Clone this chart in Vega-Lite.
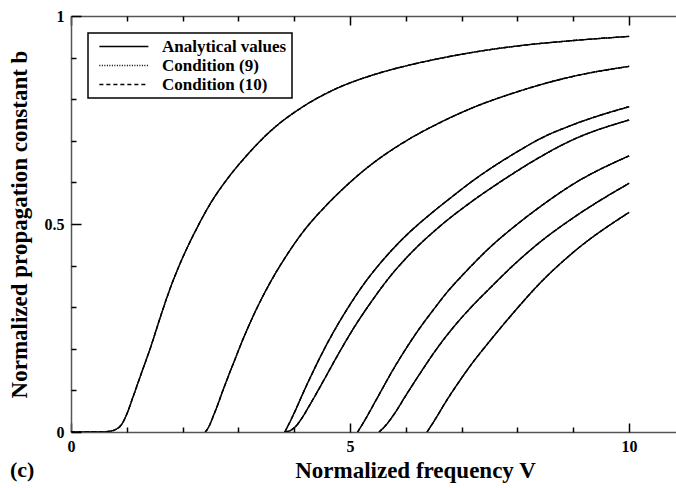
{
"$schema": "https://vega.github.io/schema/vega-lite/v6.json",
"width": 605,
"height": 416,
"autosize": {"type": "none"},
"padding": {"left": 71, "top": 16, "right": 0, "bottom": 56},
"background": "white",
"data": {"values": [
{"mode":"LP01","V":0,"Analytical values":0,"Condition (9)":0,"Condition (10)":0},
{"mode":"LP01","V":0.3,"Analytical values":0,"Condition (9)":0,"Condition (10)":0},
{"mode":"LP01","V":0.55,"Analytical values":0,"Condition (9)":0,"Condition (10)":0},
{"mode":"LP01","V":0.7,"Analytical values":0.002,"Condition (9)":0.002,"Condition (10)":0.002},
{"mode":"LP01","V":0.8,"Analytical values":0.006,"Condition (9)":0.006,"Condition (10)":0.006},
{"mode":"LP01","V":0.9,"Analytical values":0.017,"Condition (9)":0.017,"Condition (10)":0.017},
{"mode":"LP01","V":1.0,"Analytical values":0.043,"Condition (9)":0.043,"Condition (10)":0.043},
{"mode":"LP01","V":1.1,"Analytical values":0.08,"Condition (9)":0.08,"Condition (10)":0.08},
{"mode":"LP01","V":1.25,"Analytical values":0.137,"Condition (9)":0.137,"Condition (10)":0.137},
{"mode":"LP01","V":1.43,"Analytical values":0.205,"Condition (9)":0.205,"Condition (10)":0.205},
{"mode":"LP01","V":1.61,"Analytical values":0.28,"Condition (9)":0.28,"Condition (10)":0.28},
{"mode":"LP01","V":1.79,"Analytical values":0.35,"Condition (9)":0.35,"Condition (10)":0.35},
{"mode":"LP01","V":1.97,"Analytical values":0.41,"Condition (9)":0.41,"Condition (10)":0.41},
{"mode":"LP01","V":2.21,"Analytical values":0.478,"Condition (9)":0.478,"Condition (10)":0.478},
{"mode":"LP01","V":2.51,"Analytical values":0.552,"Condition (9)":0.552,"Condition (10)":0.552},
{"mode":"LP01","V":2.81,"Analytical values":0.61,"Condition (9)":0.61,"Condition (10)":0.61},
{"mode":"LP01","V":3.17,"Analytical values":0.668,"Condition (9)":0.668,"Condition (10)":0.668},
{"mode":"LP01","V":3.58,"Analytical values":0.724,"Condition (9)":0.724,"Condition (10)":0.724},
{"mode":"LP01","V":4.18,"Analytical values":0.784,"Condition (9)":0.784,"Condition (10)":0.784},
{"mode":"LP01","V":4.78,"Analytical values":0.827,"Condition (9)":0.827,"Condition (10)":0.827},
{"mode":"LP01","V":5.38,"Analytical values":0.857,"Condition (9)":0.857,"Condition (10)":0.857},
{"mode":"LP01","V":5.97,"Analytical values":0.879,"Condition (9)":0.879,"Condition (10)":0.879},
{"mode":"LP01","V":6.57,"Analytical values":0.897,"Condition (9)":0.897,"Condition (10)":0.897},
{"mode":"LP01","V":7.17,"Analytical values":0.912,"Condition (9)":0.912,"Condition (10)":0.912},
{"mode":"LP01","V":8,"Analytical values":0.928,"Condition (9)":0.928,"Condition (10)":0.928},
{"mode":"LP01","V":9,"Analytical values":0.941,"Condition (9)":0.941,"Condition (10)":0.941},
{"mode":"LP01","V":10,"Analytical values":0.951,"Condition (9)":0.951,"Condition (10)":0.951},
{"mode":"LP11","V":2.405,"Analytical values":0,"Condition (9)":0,"Condition (10)":0},
{"mode":"LP11","V":2.45,"Analytical values":0.008,"Condition (9)":0.008,"Condition (10)":0.008},
{"mode":"LP11","V":2.57,"Analytical values":0.045,"Condition (9)":0.045,"Condition (10)":0.045},
{"mode":"LP11","V":2.75,"Analytical values":0.11,"Condition (9)":0.11,"Condition (10)":0.11},
{"mode":"LP11","V":2.93,"Analytical values":0.172,"Condition (9)":0.172,"Condition (10)":0.172},
{"mode":"LP11","V":3.11,"Analytical values":0.232,"Condition (9)":0.232,"Condition (10)":0.232},
{"mode":"LP11","V":3.35,"Analytical values":0.303,"Condition (9)":0.303,"Condition (10)":0.303},
{"mode":"LP11","V":3.58,"Analytical values":0.362,"Condition (9)":0.362,"Condition (10)":0.362},
{"mode":"LP11","V":3.88,"Analytical values":0.428,"Condition (9)":0.428,"Condition (10)":0.428},
{"mode":"LP11","V":4.18,"Analytical values":0.485,"Condition (9)":0.485,"Condition (10)":0.485},
{"mode":"LP11","V":4.54,"Analytical values":0.54,"Condition (9)":0.54,"Condition (10)":0.54},
{"mode":"LP11","V":4.9,"Analytical values":0.588,"Condition (9)":0.588,"Condition (10)":0.588},
{"mode":"LP11","V":5.38,"Analytical values":0.643,"Condition (9)":0.643,"Condition (10)":0.643},
{"mode":"LP11","V":5.97,"Analytical values":0.697,"Condition (9)":0.697,"Condition (10)":0.697},
{"mode":"LP11","V":6.57,"Analytical values":0.741,"Condition (9)":0.741,"Condition (10)":0.741},
{"mode":"LP11","V":7.17,"Analytical values":0.778,"Condition (9)":0.778,"Condition (10)":0.778},
{"mode":"LP11","V":8,"Analytical values":0.818,"Condition (9)":0.818,"Condition (10)":0.818},
{"mode":"LP11","V":8.39,"Analytical values":0.834,"Condition (9)":0.834,"Condition (10)":0.834},
{"mode":"LP11","V":9,"Analytical values":0.855,"Condition (9)":0.855,"Condition (10)":0.855},
{"mode":"LP11","V":10,"Analytical values":0.879,"Condition (9)":0.879,"Condition (10)":0.879},
{"mode":"LP21","V":3.832,"Analytical values":0,"Condition (9)":0,"Condition (10)":0},
{"mode":"LP21","V":3.9,"Analytical values":0.018,"Condition (9)":0.018,"Condition (10)":0.018},
{"mode":"LP21","V":4.0,"Analytical values":0.046,"Condition (9)":0.046,"Condition (10)":0.046},
{"mode":"LP21","V":4.18,"Analytical values":0.1,"Condition (9)":0.1,"Condition (10)":0.1},
{"mode":"LP21","V":4.42,"Analytical values":0.168,"Condition (9)":0.168,"Condition (10)":0.168},
{"mode":"LP21","V":4.66,"Analytical values":0.23,"Condition (9)":0.23,"Condition (10)":0.23},
{"mode":"LP21","V":4.96,"Analytical values":0.298,"Condition (9)":0.298,"Condition (10)":0.298},
{"mode":"LP21","V":5.26,"Analytical values":0.358,"Condition (9)":0.358,"Condition (10)":0.358},
{"mode":"LP21","V":5.62,"Analytical values":0.418,"Condition (9)":0.418,"Condition (10)":0.418},
{"mode":"LP21","V":5.97,"Analytical values":0.468,"Condition (9)":0.468,"Condition (10)":0.468},
{"mode":"LP21","V":6.45,"Analytical values":0.525,"Condition (9)":0.525,"Condition (10)":0.525},
{"mode":"LP21","V":6.87,"Analytical values":0.57,"Condition (9)":0.57,"Condition (10)":0.57},
{"mode":"LP21","V":7.17,"Analytical values":0.601,"Condition (9)":0.601,"Condition (10)":0.601},
{"mode":"LP21","V":7.5,"Analytical values":0.632,"Condition (9)":0.632,"Condition (10)":0.632},
{"mode":"LP21","V":8,"Analytical values":0.674,"Condition (9)":0.674,"Condition (10)":0.674},
{"mode":"LP21","V":8.39,"Analytical values":0.704,"Condition (9)":0.704,"Condition (10)":0.704},
{"mode":"LP21","V":9,"Analytical values":0.739,"Condition (9)":0.739,"Condition (10)":0.739},
{"mode":"LP21","V":10,"Analytical values":0.782,"Condition (9)":0.782,"Condition (10)":0.782},
{"mode":"LP02","V":3.832,"Analytical values":0,"Condition (9)":0,"Condition (10)":0},
{"mode":"LP02","V":3.9,"Analytical values":0.002,"Condition (9)":0.002,"Condition (10)":0.002},
{"mode":"LP02","V":3.95,"Analytical values":0.005,"Condition (9)":0.005,"Condition (10)":0.005},
{"mode":"LP02","V":4.0,"Analytical values":0.01,"Condition (9)":0.01,"Condition (10)":0.01},
{"mode":"LP02","V":4.05,"Analytical values":0.017,"Condition (9)":0.017,"Condition (10)":0.017},
{"mode":"LP02","V":4.12,"Analytical values":0.03,"Condition (9)":0.03,"Condition (10)":0.03},
{"mode":"LP02","V":4.3,"Analytical values":0.07,"Condition (9)":0.07,"Condition (10)":0.07},
{"mode":"LP02","V":4.54,"Analytical values":0.127,"Condition (9)":0.127,"Condition (10)":0.127},
{"mode":"LP02","V":4.78,"Analytical values":0.185,"Condition (9)":0.185,"Condition (10)":0.185},
{"mode":"LP02","V":5.08,"Analytical values":0.253,"Condition (9)":0.253,"Condition (10)":0.253},
{"mode":"LP02","V":5.38,"Analytical values":0.313,"Condition (9)":0.313,"Condition (10)":0.313},
{"mode":"LP02","V":5.73,"Analytical values":0.376,"Condition (9)":0.376,"Condition (10)":0.376},
{"mode":"LP02","V":6.09,"Analytical values":0.43,"Condition (9)":0.43,"Condition (10)":0.43},
{"mode":"LP02","V":6.57,"Analytical values":0.49,"Condition (9)":0.49,"Condition (10)":0.49},
{"mode":"LP02","V":7.17,"Analytical values":0.553,"Condition (9)":0.553,"Condition (10)":0.553},
{"mode":"LP02","V":7.5,"Analytical values":0.584,"Condition (9)":0.584,"Condition (10)":0.584},
{"mode":"LP02","V":8,"Analytical values":0.628,"Condition (9)":0.628,"Condition (10)":0.628},
{"mode":"LP02","V":8.39,"Analytical values":0.66,"Condition (9)":0.66,"Condition (10)":0.66},
{"mode":"LP02","V":9,"Analytical values":0.703,"Condition (9)":0.703,"Condition (10)":0.703},
{"mode":"LP02","V":10,"Analytical values":0.75,"Condition (9)":0.75,"Condition (10)":0.75},
{"mode":"LP31","V":5.136,"Analytical values":0,"Condition (9)":0,"Condition (10)":0},
{"mode":"LP31","V":5.25,"Analytical values":0.025,"Condition (9)":0.025,"Condition (10)":0.025},
{"mode":"LP31","V":5.5,"Analytical values":0.085,"Condition (9)":0.085,"Condition (10)":0.085},
{"mode":"LP31","V":5.75,"Analytical values":0.145,"Condition (9)":0.145,"Condition (10)":0.145},
{"mode":"LP31","V":6,"Analytical values":0.2,"Condition (9)":0.2,"Condition (10)":0.2},
{"mode":"LP31","V":6.25,"Analytical values":0.25,"Condition (9)":0.25,"Condition (10)":0.25},
{"mode":"LP31","V":6.5,"Analytical values":0.295,"Condition (9)":0.295,"Condition (10)":0.295},
{"mode":"LP31","V":6.75,"Analytical values":0.338,"Condition (9)":0.338,"Condition (10)":0.338},
{"mode":"LP31","V":7,"Analytical values":0.375,"Condition (9)":0.375,"Condition (10)":0.375},
{"mode":"LP31","V":7.17,"Analytical values":0.399,"Condition (9)":0.399,"Condition (10)":0.399},
{"mode":"LP31","V":7.5,"Analytical values":0.443,"Condition (9)":0.443,"Condition (10)":0.443},
{"mode":"LP31","V":8,"Analytical values":0.5,"Condition (9)":0.5,"Condition (10)":0.5},
{"mode":"LP31","V":8.39,"Analytical values":0.54,"Condition (9)":0.54,"Condition (10)":0.54},
{"mode":"LP31","V":9,"Analytical values":0.596,"Condition (9)":0.596,"Condition (10)":0.596},
{"mode":"LP31","V":10,"Analytical values":0.664,"Condition (9)":0.664,"Condition (10)":0.664},
{"mode":"LP12","V":5.52,"Analytical values":0,"Condition (9)":0,"Condition (10)":0},
{"mode":"LP12","V":5.6,"Analytical values":0.01,"Condition (9)":0.01,"Condition (10)":0.01},
{"mode":"LP12","V":5.8,"Analytical values":0.045,"Condition (9)":0.045,"Condition (10)":0.045},
{"mode":"LP12","V":6,"Analytical values":0.088,"Condition (9)":0.088,"Condition (10)":0.088},
{"mode":"LP12","V":6.25,"Analytical values":0.14,"Condition (9)":0.14,"Condition (10)":0.14},
{"mode":"LP12","V":6.5,"Analytical values":0.19,"Condition (9)":0.19,"Condition (10)":0.19},
{"mode":"LP12","V":6.75,"Analytical values":0.235,"Condition (9)":0.235,"Condition (10)":0.235},
{"mode":"LP12","V":7,"Analytical values":0.275,"Condition (9)":0.275,"Condition (10)":0.275},
{"mode":"LP12","V":7.17,"Analytical values":0.3,"Condition (9)":0.3,"Condition (10)":0.3},
{"mode":"LP12","V":7.5,"Analytical values":0.345,"Condition (9)":0.345,"Condition (10)":0.345},
{"mode":"LP12","V":8,"Analytical values":0.41,"Condition (9)":0.41,"Condition (10)":0.41},
{"mode":"LP12","V":8.39,"Analytical values":0.455,"Condition (9)":0.455,"Condition (10)":0.455},
{"mode":"LP12","V":9,"Analytical values":0.515,"Condition (9)":0.515,"Condition (10)":0.515},
{"mode":"LP12","V":10,"Analytical values":0.598,"Condition (9)":0.598,"Condition (10)":0.598},
{"mode":"LP41","V":6.38,"Analytical values":0,"Condition (9)":0,"Condition (10)":0},
{"mode":"LP41","V":6.5,"Analytical values":0.025,"Condition (9)":0.025,"Condition (10)":0.025},
{"mode":"LP41","V":6.75,"Analytical values":0.08,"Condition (9)":0.08,"Condition (10)":0.08},
{"mode":"LP41","V":7,"Analytical values":0.13,"Condition (9)":0.13,"Condition (10)":0.13},
{"mode":"LP41","V":7.17,"Analytical values":0.162,"Condition (9)":0.162,"Condition (10)":0.162},
{"mode":"LP41","V":7.5,"Analytical values":0.218,"Condition (9)":0.218,"Condition (10)":0.218},
{"mode":"LP41","V":8,"Analytical values":0.298,"Condition (9)":0.298,"Condition (10)":0.298},
{"mode":"LP41","V":8.39,"Analytical values":0.356,"Condition (9)":0.356,"Condition (10)":0.356},
{"mode":"LP41","V":9,"Analytical values":0.432,"Condition (9)":0.432,"Condition (10)":0.432},
{"mode":"LP41","V":10,"Analytical values":0.528,"Condition (9)":0.528,"Condition (10)":0.528}
]},
"transform": [{"fold": ["Analytical values", "Condition (9)", "Condition (10)"], "as": ["series", "b"]}],
"title": {"text": "(c)", "orient": "bottom", "anchor": "start", "frame": "bounds", "offset": -22, "dx": 2, "font": "Liberation Serif", "fontWeight": "bold", "fontSize": 22, "color": "black"},
"resolve": {"scale": {"x": "shared", "y": "shared"}, "axis": {"x": "independent", "y": "independent"}},
"layer": [
{"mark": {"type": "line", "color": "black", "strokeWidth": 1.4, "interpolate": "monotone", "clip": true},
 "encoding": {
  "x": {"field": "V", "type": "quantitative", "scale": {"domain": [0, 10.84], "nice": false, "zero": false},
        "axis": {"orient": "bottom", "values": [0, 5, 10], "ticks": false, "labelPadding": 6, "labelFlush": false, "title": "Normalized frequency V", "titleX": 344, "titleY": 45, "titleBaseline": "alphabetic", "titleAlign": "center"}},
  "y": {"field": "b", "type": "quantitative", "scale": {"domain": [0, 1], "nice": false, "zero": false},
        "axis": {"orient": "left", "values": [0, 0.5, 1], "format": ".1~f", "ticks": false, "labelPadding": 7, "title": "Normalized propagation constant b", "titleX": -45, "titleBaseline": "alphabetic"}},
  "detail": {"field": "mode"},
  "strokeDash": {"field": "series", "type": "nominal",
    "scale": {"domain": ["Analytical values", "Condition (9)", "Condition (10)"], "range": [[1, 0], [1, 1.5], [4, 3]]},
    "legend": {"orient": "none", "legendX": 17, "legendY": 17, "title": null, "padding": 5, "fillColor": "white", "strokeColor": "black",
      "symbolType": "M-1,0H7", "symbolSize": 150, "symbolStrokeWidth": 1.3, "symbolStrokeColor": "black", "symbolFillColor": "transparent", "symbolOffset": 4, "labelOffset": 48,
      "labelFont": "Liberation Serif", "labelFontWeight": "bold", "labelFontSize": 17, "labelColor": "black", "rowPadding": 1,
      "encode": {"legend": {"update": {"strokeWidth": {"value": 1.5}}}}}}
 }},
{"mark": {"type": "point", "opacity": 0},
 "encoding": {
  "x": {"field": "V", "type": "quantitative", "scale": {"domain": [0, 10.84], "nice": false, "zero": false},
        "axis": {"orient": "bottom", "values": [0, 5, 10], "offset": -9, "tickSize": 9, "labels": false, "domain": false, "title": null}},
  "y": {"field": "b", "type": "quantitative", "scale": {"domain": [0, 1], "nice": false, "zero": false},
        "axis": {"orient": "left", "values": [0, 0.5, 1], "offset": -10, "tickSize": 10, "labels": false, "domain": false, "title": null}}
 }},
{"mark": {"type": "point", "opacity": 0},
 "encoding": {
  "x": {"field": "V", "type": "quantitative", "scale": {"domain": [0, 10.84], "nice": false, "zero": false},
        "axis": {"orient": "bottom", "values": [1, 2, 3, 4, 6, 7, 8, 9], "offset": -5, "tickSize": 5, "labels": false, "domain": false, "title": null}},
  "y": {"field": "b", "type": "quantitative", "scale": {"domain": [0, 1], "nice": false, "zero": false},
        "axis": {"orient": "left", "values": [0.1, 0.2, 0.3, 0.4, 0.6, 0.7, 0.8, 0.9], "offset": -5, "tickSize": 5, "labels": false, "domain": false, "title": null}}
 }},
{"mark": {"type": "point", "opacity": 0},
 "encoding": {
  "x": {"field": "V", "type": "quantitative", "scale": {"domain": [0, 10.84], "nice": false, "zero": false},
        "axis": {"orient": "top", "ticks": false, "labels": false, "domain": true, "title": null}},
  "y": {"field": "b", "type": "quantitative", "scale": {"domain": [0, 1], "nice": false, "zero": false}, "axis": null}
 }},
{"mark": {"type": "point", "opacity": 0},
 "encoding": {
  "x": {"field": "V", "type": "quantitative", "scale": {"domain": [0, 10.84], "nice": false, "zero": false},
        "axis": {"orient": "top", "values": [0, 5, 10], "offset": -9, "tickSize": 9, "labels": false, "domain": false, "title": null}},
  "y": {"field": "b", "type": "quantitative", "scale": {"domain": [0, 1], "nice": false, "zero": false}, "axis": null}
 }},
{"mark": {"type": "point", "opacity": 0},
 "encoding": {
  "x": {"field": "V", "type": "quantitative", "scale": {"domain": [0, 10.84], "nice": false, "zero": false},
        "axis": {"orient": "top", "values": [1, 2, 3, 4, 6, 7, 8, 9], "offset": -5, "tickSize": 5, "labels": false, "domain": false, "title": null}},
  "y": {"field": "b", "type": "quantitative", "scale": {"domain": [0, 1], "nice": false, "zero": false}, "axis": null}
 }}
],
"config": {
 "view": {"stroke": null},
 "axis": {"grid": false, "domainColor": "#555", "domainWidth": 1.5, "tickColor": "black", "tickWidth": 1.5,
   "labelFont": "Liberation Serif", "labelFontWeight": "bold", "labelFontSize": 16, "labelColor": "black",
   "titleFont": "Liberation Serif", "titleFontWeight": "bold", "titleFontSize": 23, "titleColor": "black"}
}
}
